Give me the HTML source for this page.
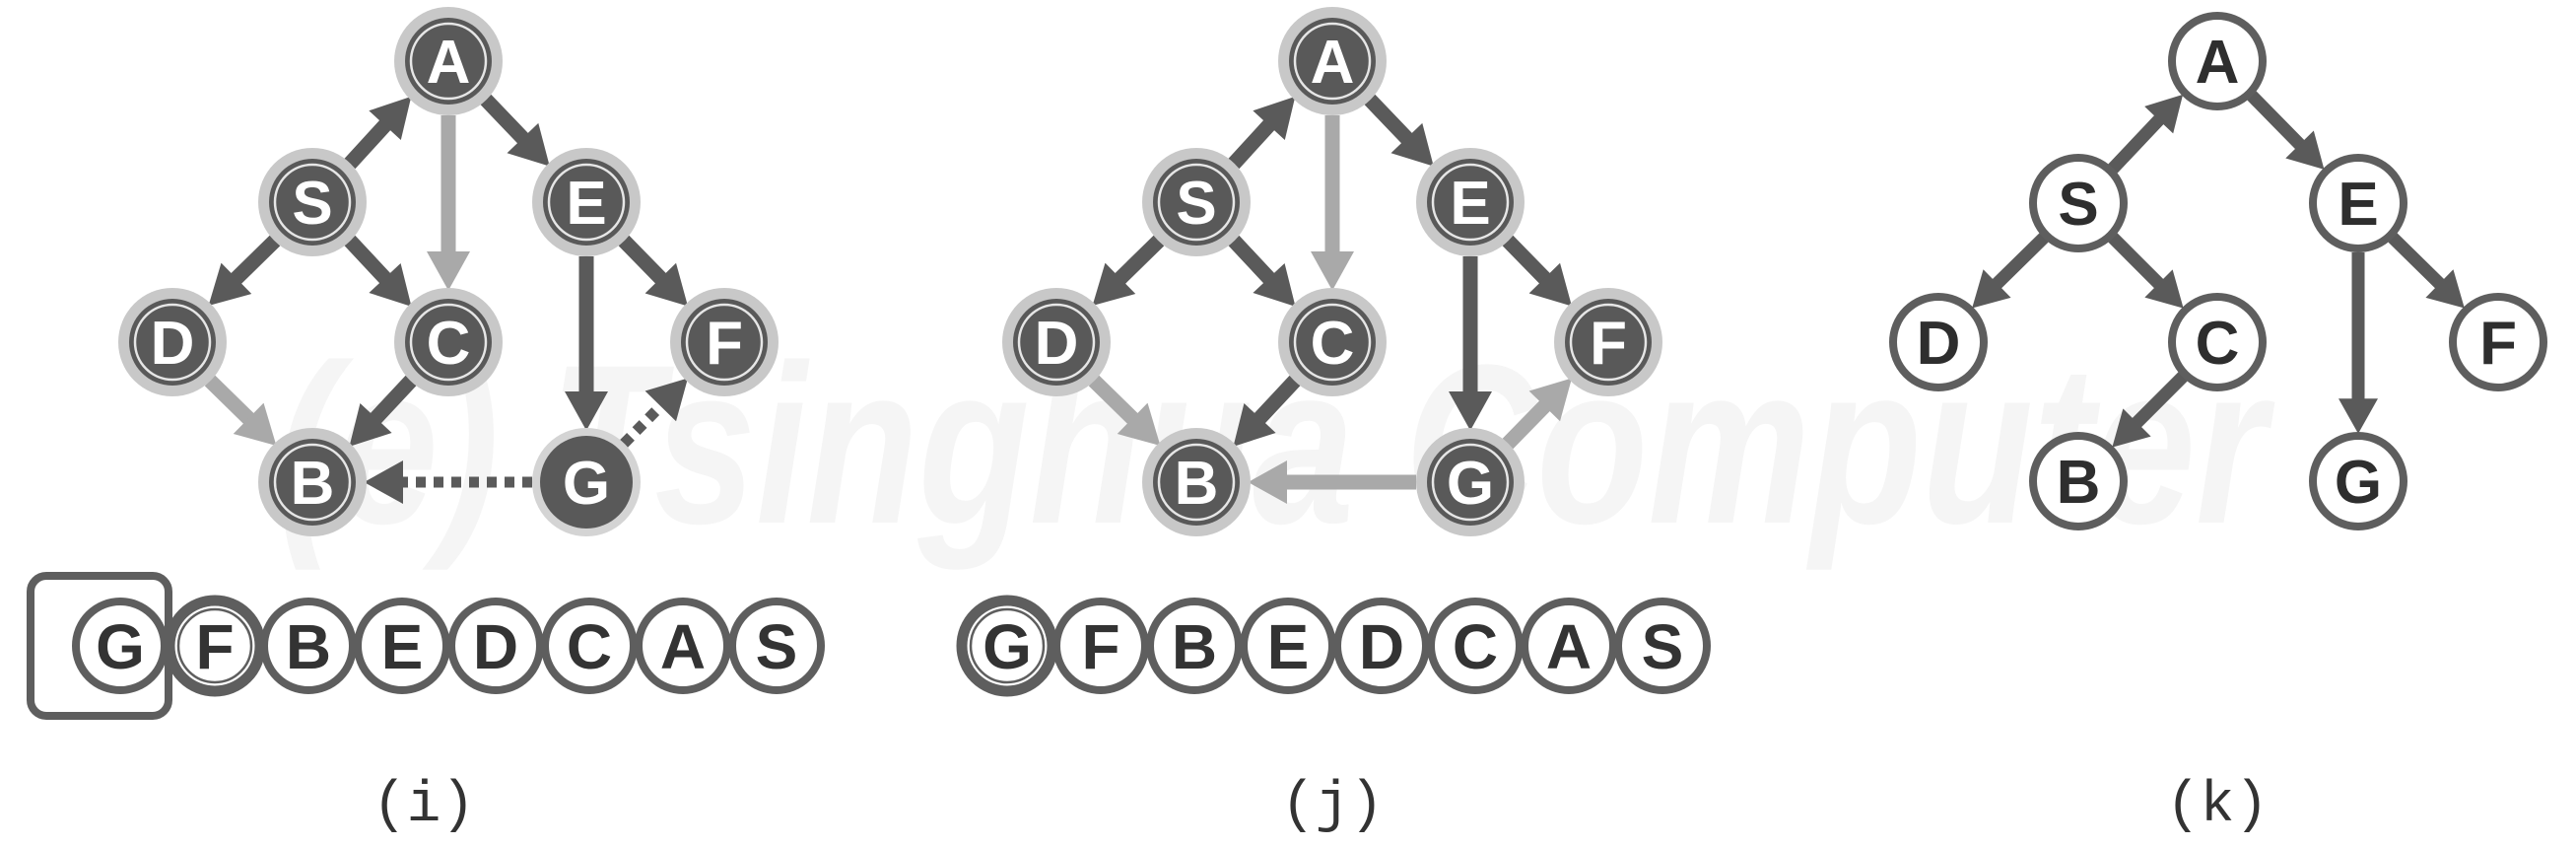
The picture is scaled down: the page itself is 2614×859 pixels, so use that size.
<!DOCTYPE html>
<html><head><meta charset="utf-8"><style>
html,body{margin:0;padding:0;background:#fff;}
svg{display:block;}
.nl{font-family:"Liberation Sans",sans-serif;font-weight:bold;font-size:62px;fill:#fff;text-anchor:middle;}
.ql{font-family:"Liberation Sans",sans-serif;font-weight:bold;font-size:64px;fill:#333;text-anchor:middle;}
.kl{font-family:"Liberation Sans",sans-serif;font-weight:bold;font-size:62px;fill:#2e2e2e;text-anchor:middle;}
.lab{font-family:"Liberation Mono",monospace;font-size:58px;fill:#333;text-anchor:middle;}
</style></head><body>
<svg width="2614" height="859" viewBox="0 0 2614 859" xmlns="http://www.w3.org/2000/svg">
<defs>
<marker id="md" markerUnits="userSpaceOnUse" markerWidth="44" markerHeight="44" viewBox="0 0 36 40" refX="10" refY="20" orient="auto"><path d="M0,0 L36,20 L0,40 z" fill="#5a5a5a"/></marker>
<marker id="ml" markerUnits="userSpaceOnUse" markerWidth="44" markerHeight="44" viewBox="0 0 36 40" refX="10" refY="20" orient="auto"><path d="M0,0 L36,20 L0,40 z" fill="#a9a9a9"/></marker>
<marker id="mk" markerUnits="userSpaceOnUse" markerWidth="40" markerHeight="40" viewBox="0 0 32 36" refX="7" refY="18" orient="auto"><path d="M0,0 L32,18 L0,36 z" fill="#5a5a5a"/></marker>
</defs>
<text x="1290" y="530" font-family="Liberation Sans,sans-serif" font-weight="bold" font-style="italic" font-size="230" fill="#f5f5f5" text-anchor="middle" textLength="2020" lengthAdjust="spacingAndGlyphs">(e) Tsinghua Computer</text>

<!-- Panel i edges -->
<g stroke-width="15" fill="none">
<line x1="355" y1="166" x2="398" y2="119" stroke="#5a5a5a" marker-end="url(#md)"/>
<line x1="493" y1="101" x2="538" y2="148" stroke="#5a5a5a" marker-end="url(#md)"/>
<line x1="279" y1="244" x2="232" y2="290" stroke="#5a5a5a" marker-end="url(#md)"/>
<line x1="355" y1="244" x2="398" y2="290" stroke="#5a5a5a" marker-end="url(#md)"/>
<line x1="633" y1="244" x2="678" y2="290" stroke="#5a5a5a" marker-end="url(#md)"/>
<line x1="213" y1="386" x2="260" y2="432" stroke="#a9a9a9" marker-end="url(#ml)"/>
<line x1="417" y1="386" x2="374" y2="432" stroke="#5a5a5a" marker-end="url(#md)"/>
<line x1="455" y1="117" x2="455" y2="266" stroke="#a9a9a9" marker-end="url(#ml)"/>
<line x1="595" y1="260" x2="595" y2="408" stroke="#5a5a5a" marker-end="url(#md)"/>
<line x1="633" y1="450" x2="678" y2="404" stroke="#5a5a5a" stroke-width="11" stroke-dasharray="10 8" marker-end="url(#md)"/>
<line x1="540" y1="489" x2="398" y2="489" stroke="#5a5a5a" stroke-width="11" stroke-dasharray="10 8" marker-end="url(#md)"/>
</g>
<!-- Panel j edges -->
<g stroke-width="15" fill="none" transform="translate(897,0)">
<line x1="355" y1="166" x2="398" y2="119" stroke="#5a5a5a" marker-end="url(#md)"/>
<line x1="493" y1="101" x2="538" y2="148" stroke="#5a5a5a" marker-end="url(#md)"/>
<line x1="279" y1="244" x2="232" y2="290" stroke="#5a5a5a" marker-end="url(#md)"/>
<line x1="355" y1="244" x2="398" y2="290" stroke="#5a5a5a" marker-end="url(#md)"/>
<line x1="633" y1="244" x2="678" y2="290" stroke="#5a5a5a" marker-end="url(#md)"/>
<line x1="213" y1="386" x2="260" y2="432" stroke="#a9a9a9" marker-end="url(#ml)"/>
<line x1="417" y1="386" x2="374" y2="432" stroke="#5a5a5a" marker-end="url(#md)"/>
<line x1="455" y1="117" x2="455" y2="266" stroke="#a9a9a9" marker-end="url(#ml)"/>
<line x1="595" y1="260" x2="595" y2="408" stroke="#5a5a5a" marker-end="url(#md)"/>
<line x1="633" y1="450" x2="678" y2="404" stroke="#a9a9a9" marker-end="url(#ml)"/>
<line x1="540" y1="489" x2="398" y2="489" stroke="#a9a9a9" marker-end="url(#ml)"/>
</g>
<!-- Panel k edges -->
<g stroke-width="13" fill="none" stroke="#5a5a5a">
<line x1="2144" y1="171" x2="2196" y2="116" marker-end="url(#mk)"/>
<line x1="2285" y1="97" x2="2339" y2="152" marker-end="url(#mk)"/>
<line x1="2074" y1="241" x2="2021" y2="293" marker-end="url(#mk)"/>
<line x1="2144" y1="241" x2="2196" y2="293" marker-end="url(#mk)"/>
<line x1="2428" y1="241" x2="2481" y2="293" marker-end="url(#mk)"/>
<line x1="2215" y1="382" x2="2163" y2="434" marker-end="url(#mk)"/>
<line x1="2393" y1="256" x2="2393" y2="412" marker-end="url(#mk)"/>
</g>

<!-- Panel i nodes -->
<g>
<g transform="translate(455,62)"><circle r="55" fill="#c8c8c8"/><circle r="44" fill="#595959"/><circle r="38" fill="none" stroke="#e6e6e6" stroke-width="2.5"/><text class="nl" y="22">A</text></g>
<g transform="translate(317,205)"><circle r="55" fill="#c8c8c8"/><circle r="44" fill="#595959"/><circle r="38" fill="none" stroke="#e6e6e6" stroke-width="2.5"/><text class="nl" y="22">S</text></g>
<g transform="translate(595,205)"><circle r="55" fill="#c8c8c8"/><circle r="44" fill="#595959"/><circle r="38" fill="none" stroke="#e6e6e6" stroke-width="2.5"/><text class="nl" y="22">E</text></g>
<g transform="translate(175,347)"><circle r="55" fill="#c8c8c8"/><circle r="44" fill="#595959"/><circle r="38" fill="none" stroke="#e6e6e6" stroke-width="2.5"/><text class="nl" y="22">D</text></g>
<g transform="translate(455,347)"><circle r="55" fill="#c8c8c8"/><circle r="44" fill="#595959"/><circle r="38" fill="none" stroke="#e6e6e6" stroke-width="2.5"/><text class="nl" y="22">C</text></g>
<g transform="translate(735,347)"><circle r="55" fill="#c8c8c8"/><circle r="44" fill="#595959"/><circle r="38" fill="none" stroke="#e6e6e6" stroke-width="2.5"/><text class="nl" y="22">F</text></g>
<g transform="translate(317,489)"><circle r="55" fill="#c8c8c8"/><circle r="44" fill="#595959"/><circle r="38" fill="none" stroke="#e6e6e6" stroke-width="2.5"/><text class="nl" y="22">B</text></g>
<g transform="translate(595,489)"><circle r="55" fill="#d4d4d4"/><circle r="47" fill="#595959"/><text class="nl" y="22">G</text></g>
</g>
<!-- Panel j nodes -->
<g transform="translate(897,0)">
<g transform="translate(455,62)"><circle r="55" fill="#c8c8c8"/><circle r="44" fill="#595959"/><circle r="38" fill="none" stroke="#e6e6e6" stroke-width="2.5"/><text class="nl" y="22">A</text></g>
<g transform="translate(317,205)"><circle r="55" fill="#c8c8c8"/><circle r="44" fill="#595959"/><circle r="38" fill="none" stroke="#e6e6e6" stroke-width="2.5"/><text class="nl" y="22">S</text></g>
<g transform="translate(595,205)"><circle r="55" fill="#c8c8c8"/><circle r="44" fill="#595959"/><circle r="38" fill="none" stroke="#e6e6e6" stroke-width="2.5"/><text class="nl" y="22">E</text></g>
<g transform="translate(175,347)"><circle r="55" fill="#c8c8c8"/><circle r="44" fill="#595959"/><circle r="38" fill="none" stroke="#e6e6e6" stroke-width="2.5"/><text class="nl" y="22">D</text></g>
<g transform="translate(455,347)"><circle r="55" fill="#c8c8c8"/><circle r="44" fill="#595959"/><circle r="38" fill="none" stroke="#e6e6e6" stroke-width="2.5"/><text class="nl" y="22">C</text></g>
<g transform="translate(735,347)"><circle r="55" fill="#c8c8c8"/><circle r="44" fill="#595959"/><circle r="38" fill="none" stroke="#e6e6e6" stroke-width="2.5"/><text class="nl" y="22">F</text></g>
<g transform="translate(317,489)"><circle r="55" fill="#c8c8c8"/><circle r="44" fill="#595959"/><circle r="38" fill="none" stroke="#e6e6e6" stroke-width="2.5"/><text class="nl" y="22">B</text></g>
<g transform="translate(595,489)"><circle r="55" fill="#c8c8c8"/><circle r="44" fill="#595959"/><circle r="38" fill="none" stroke="#e6e6e6" stroke-width="2.5"/><text class="nl" y="22">G</text></g>
</g>
<!-- Panel k nodes -->
<g fill="#fff" stroke="#5e5e5e" stroke-width="8">
<circle cx="2250" cy="62" r="46"/><circle cx="2109" cy="206" r="46"/><circle cx="2393" cy="206" r="46"/>
<circle cx="1967" cy="347" r="46"/><circle cx="2250" cy="347" r="46"/><circle cx="2535" cy="347" r="46"/>
<circle cx="2109" cy="488" r="46"/><circle cx="2393" cy="488" r="46"/>
</g>
<text class="kl" x="2250" y="84">A</text><text class="kl" x="2109" y="228">S</text><text class="kl" x="2393" y="228">E</text>
<text class="kl" x="1967" y="369">D</text><text class="kl" x="2250" y="369">C</text><text class="kl" x="2535" y="369">F</text>
<text class="kl" x="2109" y="510">B</text><text class="kl" x="2393" y="510">G</text>

<!-- Queue i -->
<rect x="31" y="584" width="140" height="142" rx="16" fill="none" stroke="#5e5e5e" stroke-width="8"/>
<g fill="#fff" stroke="#5e5e5e" stroke-width="8">
<circle cx="122" cy="655" r="45"/><circle cx="313" cy="655" r="45"/><circle cx="408" cy="655" r="45"/><circle cx="503" cy="655" r="45"/><circle cx="598" cy="655" r="45"/><circle cx="693" cy="655" r="45"/><circle cx="788" cy="655" r="45"/>
<circle cx="218" cy="655" r="46" stroke-width="11"/>
</g>
<circle cx="218" cy="655" r="37" fill="none" stroke="#5e5e5e" stroke-width="2.5"/>
<text class="ql" x="122" y="678">G</text><text class="ql" x="218" y="678">F</text><text class="ql" x="313" y="678">B</text><text class="ql" x="408" y="678">E</text><text class="ql" x="503" y="678">D</text><text class="ql" x="598" y="678">C</text><text class="ql" x="693" y="678">A</text><text class="ql" x="788" y="678">S</text>
<!-- Queue j -->
<g fill="#fff" stroke="#5e5e5e" stroke-width="8">
<circle cx="1117" cy="655" r="45"/><circle cx="1212" cy="655" r="45"/><circle cx="1307" cy="655" r="45"/><circle cx="1402" cy="655" r="45"/><circle cx="1497" cy="655" r="45"/><circle cx="1592" cy="655" r="45"/><circle cx="1687" cy="655" r="45"/>
<circle cx="1022" cy="655" r="46" stroke-width="11"/>
</g>
<circle cx="1022" cy="655" r="37" fill="none" stroke="#5e5e5e" stroke-width="2.5"/>
<text class="ql" x="1022" y="678">G</text><text class="ql" x="1117" y="678">F</text><text class="ql" x="1212" y="678">B</text><text class="ql" x="1307" y="678">E</text><text class="ql" x="1402" y="678">D</text><text class="ql" x="1497" y="678">C</text><text class="ql" x="1592" y="678">A</text><text class="ql" x="1687" y="678">S</text>

<text class="lab" x="430" y="832">(i)</text>
<text class="lab" x="1352" y="832">(j)</text>
<text class="lab" x="2250" y="832">(k)</text>
</svg>
</body></html>
